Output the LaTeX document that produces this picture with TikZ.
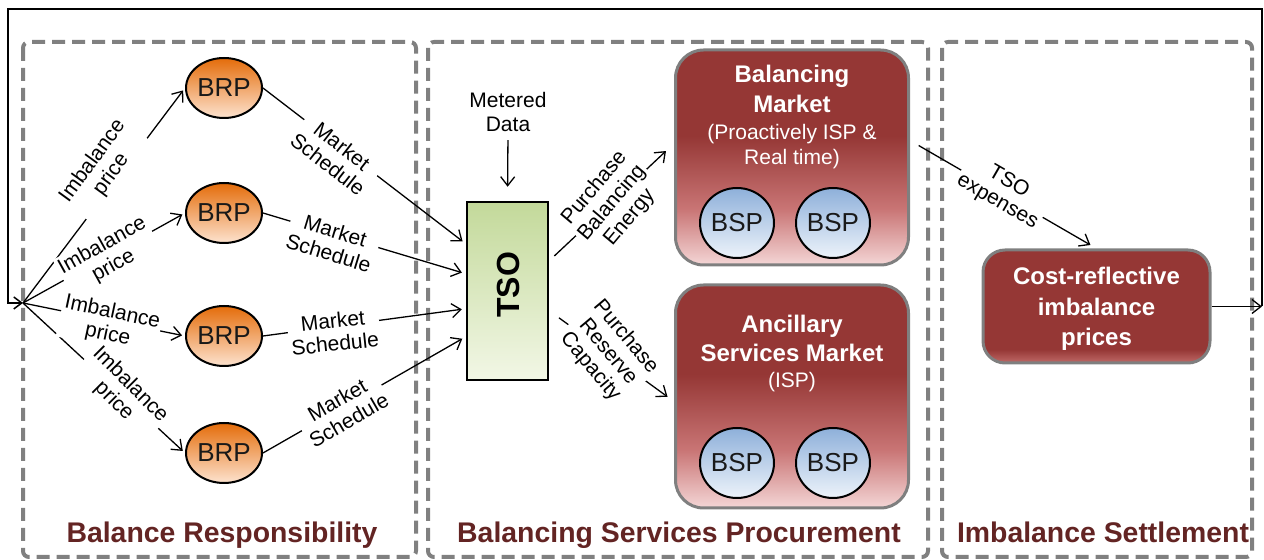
\documentclass[tikz,border=0pt]{standalone}
\usepackage{fontspec}
\setmainfont{Liberation Sans}
\usetikzlibrary{arrows.meta,shapes.geometric}
\definecolor{mktTop}{HTML}{953735}
\definecolor{mktMid}{HTML}{C97575}
\definecolor{mktBot}{HTML}{F4D6D6}
\definecolor{costBot}{HTML}{C06A68}
\definecolor{titleRed}{HTML}{632423}
\definecolor{dashGray}{HTML}{808080}
\definecolor{boxGray}{HTML}{7F7F7F}
\definecolor{brpTop}{HTML}{E46C0A}
\definecolor{brpBot}{HTML}{FDE3CF}
\definecolor{bspTop}{HTML}{8EB0DA}
\definecolor{bspBot}{HTML}{EDF3FA}
\definecolor{tsoTop}{HTML}{C3D99A}
\definecolor{tsoBot}{HTML}{F2F7E6}
\pgfdeclareverticalshading{mktshade}{100bp}{color(0bp)=(mktBot); color(25bp)=(mktBot); color(38bp)=(mktMid); color(55bp)=(mktTop); color(100bp)=(mktTop)}
\pgfdeclareverticalshading{costshade}{100bp}{color(0bp)=(costBot); color(25bp)=(costBot); color(31bp)=(mktTop); color(100bp)=(mktTop)}
\begin{document}
\begin{tikzpicture}[x=0.5pt,y=-0.5pt,
  region/.style={draw=dashGray, line width=2pt, dash pattern=on 6.5pt off 3.5pt, rounded corners=3pt},
  brp/.style={ellipse, draw=black, line width=1pt, top color=brpTop, bottom color=brpBot,
    minimum width=38pt, minimum height=30pt, inner sep=0pt, text=black!90, font=\fontsize{13}{15}\selectfont},
  bsp/.style={ellipse, draw=black, line width=1pt, top color=bspTop, bottom color=bspBot,
    minimum width=37pt, minimum height=35pt, inner sep=0pt, text=black!90, font=\fontsize{13}{15}\selectfont},
  mkt/.style={rectangle, rounded corners=14pt, draw=boxGray, line width=1.5pt, shading=mktshade,
    minimum width=116.5pt, inner sep=0pt},
  costbox/.style={rectangle, rounded corners=11pt, draw=boxGray, line width=1.5pt, shading=costshade,
    minimum width=113.5pt, minimum height=56.5pt, inner sep=0pt},
  tsobox/.style={rectangle, draw=black, line width=1.25pt, top color=tsoTop, bottom color=tsoBot,
    minimum width=40.5pt, minimum height=89pt, inner sep=0pt},
  wbold/.style={anchor=base, text=white, inner sep=0pt, font=\bfseries\fontsize{12}{14}\selectfont},
  wreg/.style={anchor=base, text=white, inner sep=0pt, font=\fontsize{10.5}{12}\selectfont},
  lbl/.style={fill=white, inner sep=1pt, align=center, font=\fontsize{10.5}{11.5}\selectfont},
  arr/.style={line width=0.65pt, -{Straight Barb[length=4.5pt,width=7pt]}},
  loopline/.style={line width=0.75pt},
  sectitle/.style={anchor=base, text=titleRed, inner sep=0pt, font=\bfseries\fontsize{14.2}{16}\selectfont}
]
\useasboundingbox (0,0) rectangle (1264,560);

% regions
\draw[region] (23,42) rectangle (416,557);
\draw[region] (428,42) rectangle (928,557);
\draw[region] (942,42) rectangle (1252,557);

% nodes
\node[brp] (brp1) at (224,88) {BRP};
\node[brp] (brp2) at (224,213) {BRP};
\node[brp] (brp3) at (224,336) {BRP};
\node[brp] (brp4) at (224,453) {BRP};

\node[tsobox] (tso) at (507.5,291) {};
\node[rotate=90, inner sep=0pt, font=\bfseries\fontsize{16}{18}\selectfont] (tsot) at (508,285) {TSO};

\node[mkt, minimum height=107.5pt] (bm) at (792,157.5) {};
\node[mkt, minimum height=111.5pt] (as) at (792,396.5) {};
\node[costbox] (cost) at (1096.5,306.5) {};

\node[wbold] (bmt1) at (792,83) {Balancing};
\node[wbold] (bmt2) at (792,113) {Market};
\node[wreg] (bmt3) at (792,140) {(Proactively ISP \&};
\node[wreg] (bmt4) at (792,165) {Real time)};
\node[bsp] (bsp1) at (737,223) {BSP};
\node[bsp] (bsp2) at (833,223) {BSP};

\node[wbold] (ast1) at (792,333) {Ancillary};
\node[wbold] (ast2) at (792,362) {Services Market};
\node[wreg] (ast3) at (792,388) {(ISP)};
\node[bsp] (bsp3) at (737,463) {BSP};
\node[bsp] (bsp4) at (833,463) {BSP};

\node[wbold] (ct1) at (1096.5,285) {Cost-reflective};
\node[wbold] (ct2) at (1096.5,316) {imbalance};
\node[wbold] (ct3) at (1096.5,346) {prices};

\node[align=center, inner sep=0pt, font=\fontsize{10.5}{12}\selectfont] (md) at (508,112) {Metered\\Data};

% feedback loop
\coordinate (hub) at (23,303);
\coordinate (loopR) at (1262,306.5);
\coordinate (cTR) at (1262,9);
\coordinate (cTL) at (8,9);
\coordinate (cBL) at (8,303);
\draw[arr] (cost.east) -- (loopR);
\draw[loopline, -{Straight Barb[length=4pt,width=6pt]}] (loopR) -- (cTR) -- (cTL) -- (cBL) -- (hub);

% imbalance price arrows
\draw[arr, shorten >=1.5pt] (hub) -- (brp1.west);
\draw[arr, shorten >=1.5pt] (hub) -- (brp2.west);
\draw[arr, shorten >=1.5pt] (hub) -- (brp3.west);
\draw[arr, shorten >=1.5pt] (hub) -- (brp4.west);

% market schedule arrows
\draw[arr, shorten >=2pt] (brp1.east) -- ([yshift=-21.5pt]tso.north west);
\draw[arr, shorten >=2pt] (brp2.east) -- ([yshift=-36.5pt]tso.north west);
\draw[arr, shorten >=2pt] (brp3.east) -- ([yshift=-54pt]tso.north west);
\draw[arr, shorten >=2pt] (brp4.east) -- ([yshift=-68pt]tso.north west);

% metered data
\draw[arr, shorten <=4pt, shorten >=7pt] (md.south) -- (tso.north);

% TSO to markets
\draw[arr, shorten <=3.5pt, shorten >=5.5pt] ([yshift=-30pt]tso.north east) -- ([yshift=-47.5pt]bm.north west);
\draw[arr, shorten <=6pt, shorten >=4pt] ([yshift=-55pt]tso.north east) -- ([yshift=-59pt]as.north west);

% market to cost
\draw[arr, shorten <=5pt, shorten >=3.5pt] ([yshift=-46pt]bm.north east) -- (cost.north);

% labels
\node[lbl, rotate=54] (limb1) at (102,168) {Imbalance\\price};
\node[lbl, rotate=29] (limb2) at (108,256) {Imbalance\\price};
\node[lbl, rotate=-12] (limb3) at (110,324) {Imbalance\\price};
\node[lbl, rotate=-45] (limb4) at (122,393) {Imbalance\\price};

\node[lbl, rotate=-38] (lms1) at (335,155) {Market\\Schedule};
\node[lbl, rotate=-17] (lms2) at (332,242) {Market\\Schedule};
\node[lbl, rotate=6] (lms3) at (334,332) {Market\\Schedule};
\node[lbl, rotate=30] (lms4) at (343,410) {Market\\Schedule};

\node[lbl, rotate=50] (lpbe) at (612,203) {Purchase\\Balancing\\Energy};
\node[lbl, rotate=-50] (lprc) at (608,352) {Purchase\\Reserve\\Capacity};
\node[lbl, rotate=-30] (ltso) at (1003,192) {TSO\\expenses};

% section titles
\node[sectitle] (s1) at (222,543) {Balance Responsibility};
\node[sectitle] (s2) at (679,543) {Balancing Services Procurement};
\node[sectitle] (s3) at (1103,543) {Imbalance Settlement};
\end{tikzpicture}
\end{document}
